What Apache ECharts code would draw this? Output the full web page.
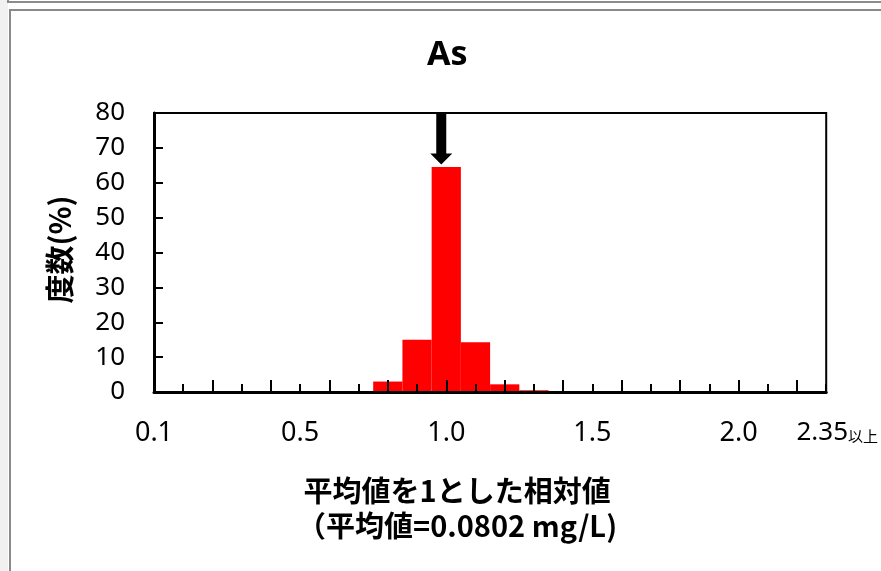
<!DOCTYPE html>
<html>
<head>
<meta charset="utf-8">
<script src="https://cdn.jsdelivr.net/npm/echarts@6/dist/echarts.min.js"></script>
<style>
  html, body { margin: 0; padding: 0; background: #ffffff; }
  #chart { width: 881px; height: 571px; }
</style>
</head>
<body>
<div id="chart"></div>
<script>
// Histogram of As concentrations relative to the mean (bin width 0.1)
const binLabels = ['0.1', '', '', '', '', '0.5', '', '', '', '', '1.0', '', '', '', '',
                   '1.5', '', '', '', '', '2.0', '', '', '2.35以上'];
const frequency = [0, 0, 0, 0, 0, 0, 0, 0, 3.0, 15.0, 64.5, 14.3, 2.2, 0.5, 0, 0,
                   0, 0, 0, 0, 0, 0, 0, 0];
const yTicks = { min: 0, max: 80, step: 10 };
const meanIndex = 10;   // bin holding the mean (relative value 1.0)

const chart = echarts.init(document.getElementById('chart'), null, { renderer: 'canvas' });

const latin = '"Noto Sans", "Noto Sans CJK JP", sans-serif';
const cjk = '"Noto Sans CJK JP", "Noto Sans", sans-serif';

const option = {
  backgroundColor: '#ffffff',
  animation: false,
  title: {
    text: 'As',
    left: 422,
    top: 33,
    textStyle: { fontFamily: latin, fontWeight: 'bold', fontSize: 34, color: '#000' }
  },
  grid: {
    left: 154, right: 52, top: 113, bottom: 179,
    show: true, borderColor: '#000', borderWidth: 2, backgroundColor: '#fff'
  },
  xAxis: [
    {
      type: 'category',
      data: binLabels,
      boundaryGap: false,
      position: 'bottom',
      z: 5,
      axisLine: { show: true, lineStyle: { color: '#000', width: 3 } },
      axisTick: { show: true, inside: true, length: 8, interval: 0, lineStyle: { color: '#000', width: 2 } },
      axisLabel: {
        interval: 0,
        margin: 28,
        color: '#000',
        fontFamily: latin,
        fontSize: 27,
        formatter: function (v) {
          if (v.indexOf('以上') >= 0) return '{a|' + v.replace('以上', '') + '}{b|以上}';
          return v;
        },
        rich: {
          a: { fontFamily: latin, fontSize: 26, color: '#000', padding: [0, 0, 0, 22] },
          b: { fontFamily: cjk, fontSize: 15, color: '#000', padding: [7, 0, 0, 0] }
        }
      },
      name: '平均値を1とした相対値\n（平均値=0.0802 mg/L)',
      nameLocation: 'middle',
      nameGap: 81,
      nameTextStyle: {
        fontFamily: cjk, fontWeight: 'bold', fontSize: 29, color: '#000', lineHeight: 35,
        align: 'center', padding: [0, 66, 0, 0]
      }
    },
    {
      type: 'category',
      data: binLabels,
      boundaryGap: false,
      position: 'bottom',
      z: 5,
      axisLine: { show: false },
      axisLabel: { show: false },
      axisTick: {
        show: true, inside: true, length: 12,
        interval: function (i) { return i % 2 === 0; },
        lineStyle: { color: '#000', width: 2 }
      }
    }
  ],
  yAxis: {
    type: 'value',
    min: yTicks.min,
    max: yTicks.max,
    interval: yTicks.step,
    z: 5,
    splitLine: { show: false },
    axisLine: { show: true, lineStyle: { color: '#000', width: 3 } },
    axisTick: { show: true, inside: true, length: 9, lineStyle: { color: '#000', width: 2 } },
    axisLabel: { margin: 29, color: '#000', fontFamily: latin, fontSize: 26 },
    name: '度数(%)',
    nameLocation: 'middle',
    nameGap: 80,
    nameTextStyle: { fontFamily: cjk, fontWeight: 'bold', fontSize: 29, color: '#000', padding: [0, 0, 0, 6] }
  },
  series: [
    {
      type: 'bar',
      xAxisIndex: 0,
      data: frequency,
      barWidth: '100%',
      itemStyle: { color: '#ff0000' },
      markPoint: {
        silent: true,
        symbol: 'path://M6,0 L16,0 L16,40 L22,40 L11,51 L0,40 L6,40 Z',
        symbolSize: [22, 51],
        symbolOffset: [-5, -28],
        itemStyle: { color: '#000' },
        label: { show: false },
        data: [{ coord: [meanIndex, frequency[meanIndex]] }]
      }
    }
  ],
  graphic: [
    { type: 'rect', shape: { x: 0, y: 0, width: 8, height: 571 }, style: { fill: '#f1f1f1' }, z: -1 },
    { type: 'polyline', shape: { points: [[8, 0], [8, 2], [881, 2]] }, style: { stroke: '#8c8c8c', lineWidth: 2, fill: null } },
    { type: 'polyline', shape: { points: [[10, 571], [10, 10], [881, 10]] }, style: { stroke: '#8a8a8a', lineWidth: 2, fill: null } }
  ]
};

chart.setOption(option);
</script>
</body>
</html>
